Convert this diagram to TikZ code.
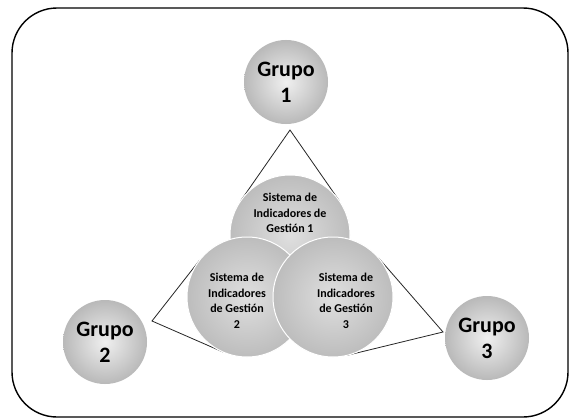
\documentclass[tikz,border=0pt]{standalone}
\usepackage{fontspec}
\setmainfont{Carlito}
\usetikzlibrary{calc}
\begin{document}
\begin{tikzpicture}[x=1pt,y=-1pt,
  geo/.style={circle, minimum size=120pt, inner sep=0pt, outer sep=0pt},
  grp/.style={circle, minimum size=84pt, inner sep=0pt, outer sep=0pt, inner color=gray!12, outer color=gray!55},
  sis/.style={geo, draw=white, line width=1pt, inner color=gray!25, outer color=gray!52},
  grptxt/.style={font=\bfseries\fontsize{22}{26}\selectfont, align=center, inner sep=0pt},
  sistxt/.style={font=\bfseries\fontsize{12}{15.5}\selectfont, align=center, inner sep=0pt},
  link/.style={draw=black!85, line width=0.8pt},
  frame/.style={draw=black, line width=1.4pt, rounded corners=45pt}]
\fill[white] (0,0) rectangle (570,420);
\useasboundingbox (0,0) rectangle (570,420);
\draw[frame] (12,8) rectangle (568,417);

% invisible circle nodes for geometry
\node[geo] (s1g) at (290,235) {};
\node[geo] (s2g) at (247,297) {};
\node[geo] (s3g) at (333,297) {};

\coordinate (a1) at (290,130);
\coordinate (a2) at (152,321);
\coordinate (a3) at (443,332);

\draw[link] (tangent cs:node=s1g,point={(a1)},solution=1) -- (a1) -- (tangent cs:node=s1g,point={(a1)},solution=2);
\draw[link] (tangent cs:node=s2g,point={(a2)},solution=1) -- (a2) -- (tangent cs:node=s2g,point={(a2)},solution=2);
\draw[link] (tangent cs:node=s3g,point={(a3)},solution=1) -- (a3) -- (tangent cs:node=s3g,point={(a3)},solution=2);

\node[sis] (s1) at (290,235) {};
\node[sis] (s2) at (247,297) {};
\node[sis] (s3) at (333,297) {};

\node[sistxt] (t1) at (290,213) {Sistema de\\Indicadores de\\Gestión 1};
\node[sistxt] (t2) at (237,301) {Sistema de\\Indicadores\\de Gestión\\2};
\node[sistxt] (t3) at (346,301) {Sistema de\\Indicadores\\de Gestión\\3};

\node[grp] (g1) at (286,82) {};
\node[grp] (g2) at (105,342) {};
\node[grp] (g3) at (487,338) {};
\node[grptxt] (gt1) at (g1) {Grupo\\1};
\node[grptxt] (gt2) at (g2) {Grupo\\2};
\node[grptxt] (gt3) at (g3) {Grupo\\3};
\end{tikzpicture}
\end{document}
